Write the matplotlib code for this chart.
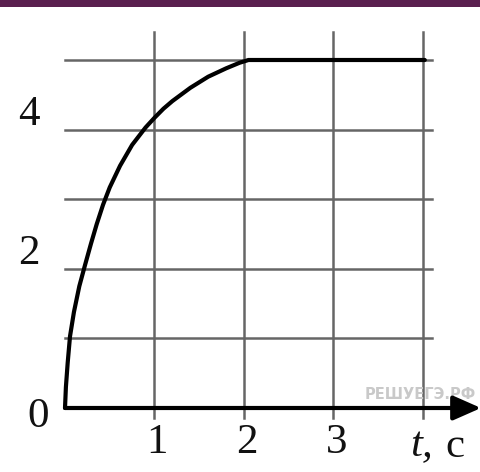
import matplotlib
matplotlib.use("Agg")
import matplotlib.pyplot as plt
from matplotlib.patches import Rectangle

# speed curve v(t)
t_values = [0, 0.01, 0.03, 0.056, 0.10, 0.16, 0.223, 0.29, 0.354, 0.425,
            0.5, 0.615, 0.75, 0.9, 1.0, 1.1, 1.2, 1.4, 1.6, 1.8, 1.95,
            2.05, 4.02]
v_values = [0, 0.3, 0.65, 1.03, 1.38, 1.75, 2.05, 2.36, 2.64, 2.92,
            3.17, 3.48, 3.78, 4.03, 4.17, 4.3, 4.41, 4.6, 4.76, 4.88, 4.96,
            5.0, 5.0]

x_ticks = [1, 2, 3]
y_ticks = [2, 4]
x_grid = [1, 2, 3, 4]
y_grid = [1, 2, 3, 4, 5]

W, H = 481, 472
# pixel position of the origin and pixels per unit
X0, Y0 = 65, 408
SX, SY = 89.5, 69.6

fig = plt.figure(figsize=(W / 100, H / 100), dpi=100)
ax = fig.add_axes([0, 0, 1, 1])
ax.set_xlim(-X0 / SX, (W - X0) / SX)
ax.set_ylim(-(H - Y0) / SY, Y0 / SY)
ax.axis("off")

grid_col = "#666666"
for gx in x_grid:
    ax.plot([gx, gx], [-0.15, 5.4], color=grid_col, lw=1.8, zorder=1)
for gy in y_grid:
    ax.plot([0, 4.1], [gy, gy], color=grid_col, lw=1.8, zorder=1)

# axes with arrows
ax.annotate("", xy=((W - X0) / SX, 0), xytext=(0, 0),
            arrowprops=dict(arrowstyle="-|>,head_length=17,head_width=7.5",
                            mutation_scale=1, lw=3, color="black",
                            shrinkA=0, shrinkB=0), zorder=3)
ax.annotate("", xy=(0, Y0 / SY + 0.5), xytext=(0, 0),
            arrowprops=dict(arrowstyle="-|>,head_length=17,head_width=7.5",
                            mutation_scale=1, lw=3.5, color="black",
                            shrinkA=0, shrinkB=0), zorder=3)

ax.plot(t_values, v_values, color="black", lw=3, solid_capstyle="round",
        solid_joinstyle="round", zorder=4)

font = dict(family=["Liberation Serif", "DejaVu Serif"], fontsize=31,
            color="#111111")
for tx in x_ticks:
    ax.text(tx + 0.03, -0.5, str(tx), ha="center", va="center", **font)
for ty in y_ticks:
    ax.text(-0.4, ty + 0.21, str(ty), ha="center", va="center", **font)
ax.text(-0.3, -0.12, "0", ha="center", va="center", **font)
ax.text(3.98, -0.55, "t,", ha="center", va="center", style="italic", **font)
ax.text(4.36, -0.55, "с", ha="center", va="center", **font)

# watermark
ax.text((W - 5 - X0) / SX, 0.2, "РЕШУЕГЭ.РФ", ha="right", va="center",
        fontsize=10.5, fontweight="bold", color="#c9c9c9",
        family=["Liberation Sans Narrow", "DejaVu Sans"], zorder=2)

# purple band along the top edge
ax.add_patch(Rectangle((0, 1 - 7 / H), 1, 7 / H, transform=ax.transAxes,
                       facecolor="#5a1f4f", edgecolor="none",
                       clip_on=False, zorder=10))

fig.savefig("out.png", dpi=100)
